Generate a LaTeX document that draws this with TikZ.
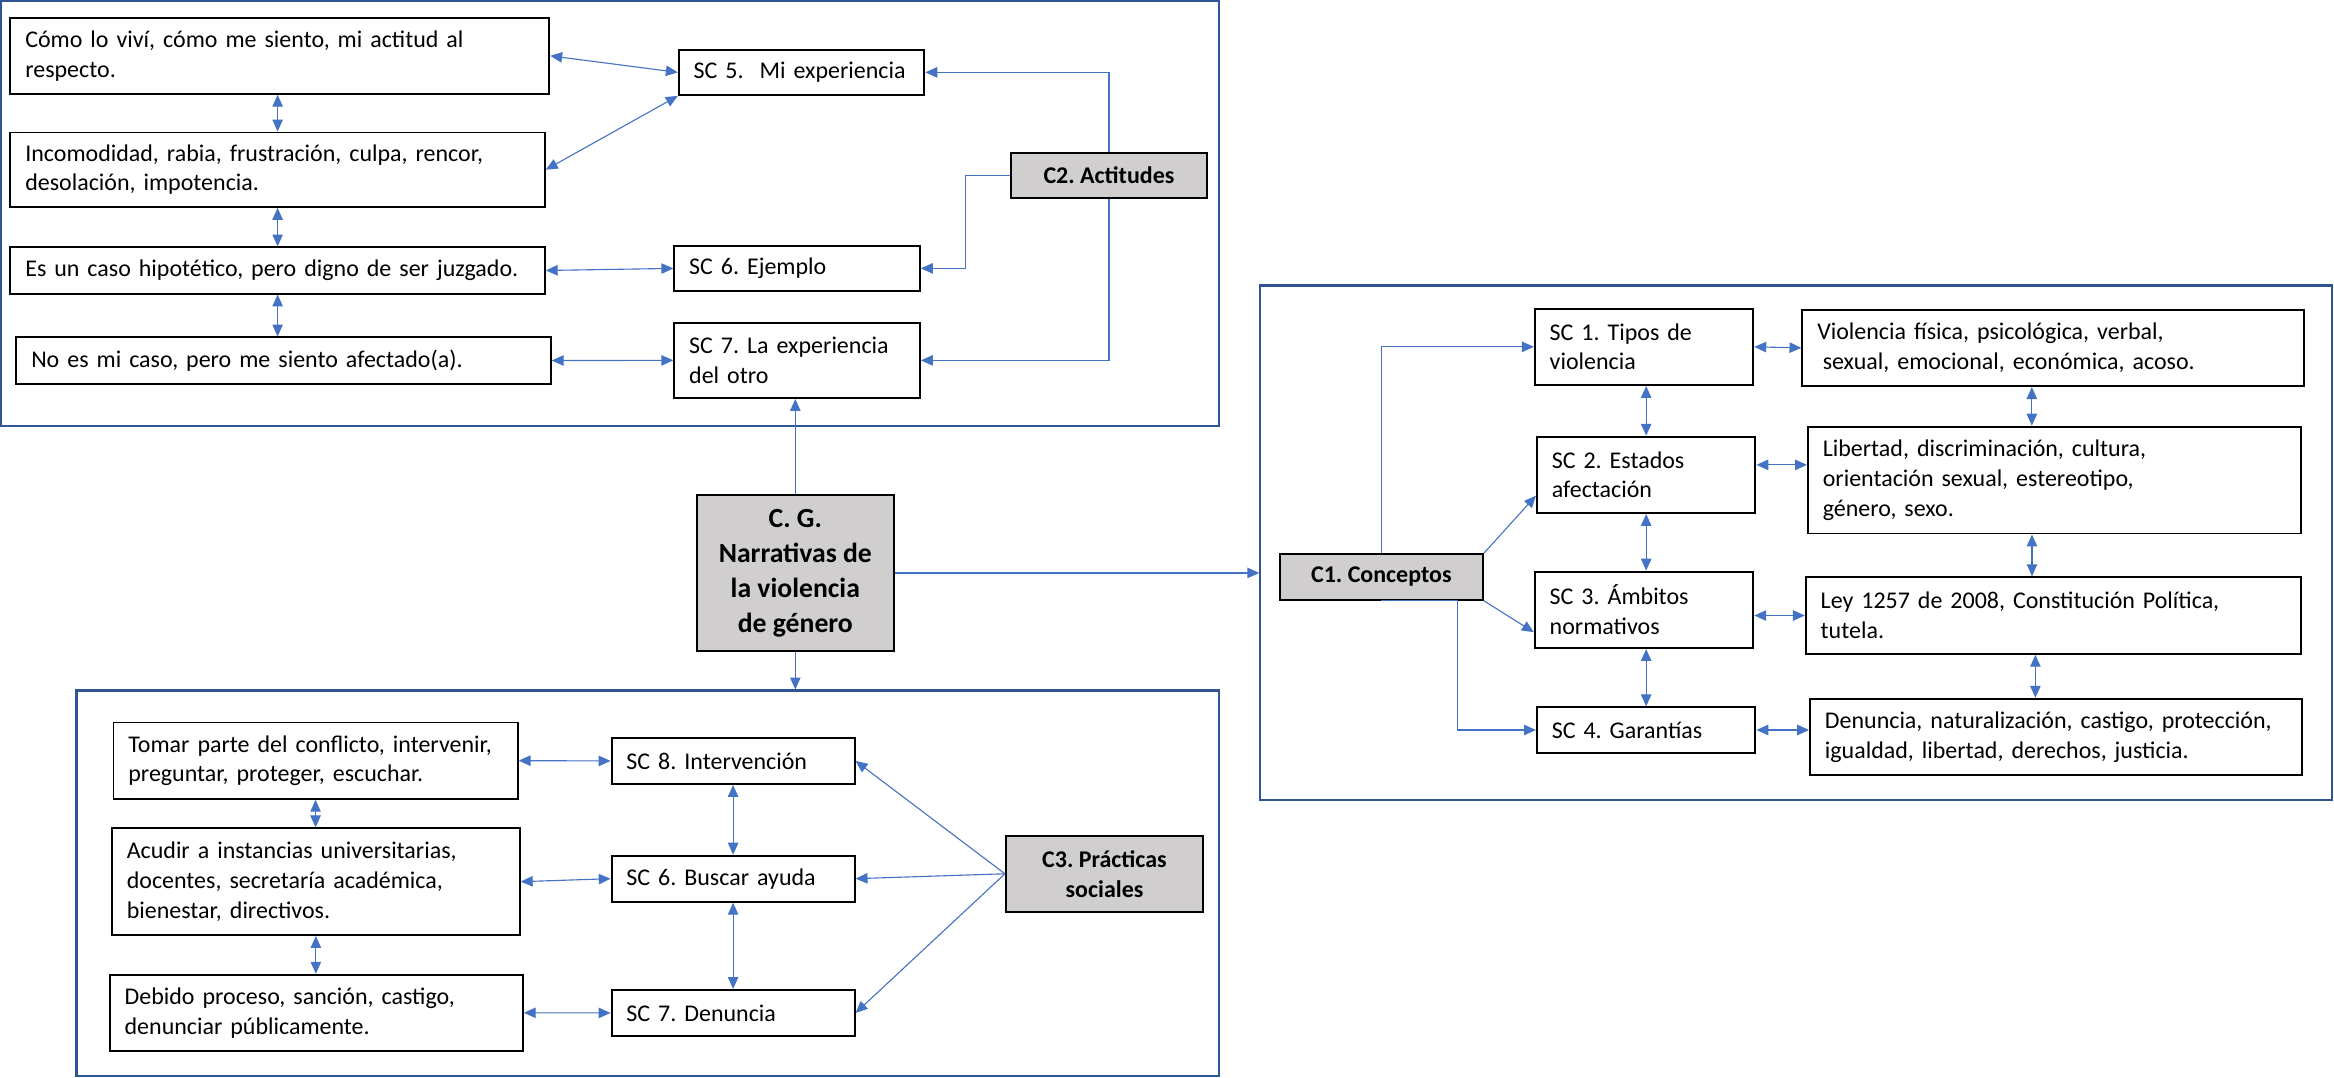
\documentclass[tikz,border=0pt]{standalone}
\usepackage{fontspec}
\setmainfont{Carlito}
\usetikzlibrary{arrows.meta}
\definecolor{linkblue}{HTML}{4472C4}
\definecolor{frameblue}{HTML}{2F5597}
\definecolor{catgray}{HTML}{D0CECE}
\frenchspacing
\hyphenpenalty=10000
\exhyphenpenalty=10000
\begin{document}
\begin{tikzpicture}[x=1pt,y=-1pt]
\tikzstyle{every node}+=[inner sep=0pt, font=\fontsize{16.1}{20}\selectfont]
\tikzstyle{frame}=[draw=frameblue, line width=1.4pt]
\tikzstyle{wbox}=[draw=black, line width=1.3pt, fill=white, inner xsep=10pt, align=left]
\tikzstyle{cbox}=[draw=black, line width=1.3pt, fill=catgray, align=center, font=\fontsize{16.1}{20}\selectfont\bfseries]
\tikzstyle{oneway}=[draw=linkblue, line width=0.75pt, -{Triangle[length=8pt,width=7pt]}]
\tikzstyle{twoway}=[draw=linkblue, line width=0.75pt, {Triangle[length=8pt,width=7pt]}-{Triangle[length=8pt,width=7pt]}]
\useasboundingbox (0,0) rectangle (1568,724);
\node[frame, minimum width=818.3pt, minimum height=285.3pt] (G2) at (409.85,143.35) {};
\node[frame, minimum width=767.4pt, minimum height=259.1pt] (G3) at (435.1,593.45) {};
\node[frame, minimum width=719.9pt, minimum height=345.9pt] (G1) at (1206.65,364.75) {};
\node[wbox, text width=342pt, minimum height=51pt] (A1) at (188,37.5) {Cómo lo viví, cómo me siento, mi actitud al\\respecto.};
\node[wbox, text width=339pt, minimum height=50pt] (A2) at (186.5,114) {Incomodidad, rabia, frustración, culpa, rencor,\\desolación, impotencia.};
\node[wbox, text width=339pt, minimum height=31pt] (A3) at (186.5,181.7) {Es un caso hipotético, pero digno de ser juzgado.};
\node[wbox, text width=339pt, minimum height=31pt] (A4) at (190.5,242.2) {No es mi caso, pero me siento afectado(a).};
\node[wbox, text width=145pt, minimum height=30.4pt] (SC5) at (538.5,48.6) {SC 5.\ \ Mi experiencia};
\node[wbox, text width=145pt, minimum height=30.5pt] (SC6) at (535.5,180.3) {SC 6. Ejemplo};
\node[wbox, text width=145pt, minimum height=50.6pt] (SC7) at (535.5,242.1) {SC 7. La experiencia\\del otro};
\node[cbox, minimum width=132pt, minimum height=30.4pt] (C2) at (745,117.8) {C2. Actitudes};
\node[cbox, minimum width=132.5pt, minimum height=104.8pt, font=\fontsize{18.6}{23.5}\selectfont\bfseries] (CG) at (534.3,384.9) {C. G.\\Narrativas de\\la violencia\\de género};
\node[wbox, text width=251.5pt, minimum height=51.3pt] (B1) at (212,511) {Tomar parte del conflicto, intervenir,\\preguntar, proteger, escuchar.};
\node[wbox, text width=254pt, minimum height=71.7pt] (B2) at (212.2,592.3) {Acudir a instancias universitarias,\\docentes, secretaría académica,\\bienestar, directivos.};
\node[wbox, text width=257.5pt, minimum height=51.2pt] (B3) at (212.5,680.4) {Debido proceso, sanción, castigo,\\denunciar públicamente.};
\node[wbox, text width=143.3pt, minimum height=31pt] (SC8) at (492.5,511.2) {SC 8. Intervención};
\node[wbox, text width=143.3pt, minimum height=31pt] (SC6b) at (492.5,590.3) {SC 6. Buscar ayuda};
\node[wbox, text width=143.3pt, minimum height=31pt] (SC7b) at (492.5,680.5) {SC 7. Denuncia};
\node[cbox, minimum width=132.5pt, minimum height=51pt] (C3) at (742,587) {C3. Prácticas\\sociales};
\node[cbox, minimum width=136.6pt, minimum height=30.8pt] (C1) at (928,387.6) {C1. Conceptos};
\node[wbox, text width=126.8pt, minimum height=51.4pt] (SC1) at (1104.5,233) {SC 1. Tipos de\\violencia};
\node[wbox, text width=126.8pt, minimum height=51.3pt] (SC2) at (1105.9,319) {SC 2. Estados\\afectación};
\node[wbox, text width=126.8pt, minimum height=51.4pt] (SC3) at (1104.5,409.7) {SC 3. Ámbitos\\normativos};
\node[wbox, text width=126.8pt, minimum height=30.5pt] (SC4) at (1105.9,490.4) {SC 4. Garantías};
\node[wbox, text width=316.7pt, minimum height=51.4pt] (D1) at (1379.2,233.7) {Violencia física, psicológica, verbal,\\\hspace*{3.7pt}sexual, emocional, económica, acoso.};
\node[wbox, text width=311.1pt, minimum height=71.8pt] (D2) at (1380.1,322.5) {Libertad, discriminación, cultura,\\orientación sexual, estereotipo,\\género, sexo.};
\node[wbox, text width=312.5pt, minimum height=51.5pt] (D3) at (1379.4,413.5) {Ley 1257 de 2008, Constitución Política,\\tutela.};
\node[wbox, text width=310.2pt, minimum height=51.4pt] (D4) at (1381.1,495.1) {Denuncia, naturalización, castigo, protección,\\igualdad, libertad, derechos, justicia.};
\draw[twoway] (A1.east) -- (SC5.west);
\draw[twoway] (A2.east) -- (SC5.south west);
\draw[twoway] (A3.east) -- (SC6.west);
\draw[twoway] (A4.east) -- (SC7.west);
\draw[twoway] (A2.north |- A1.south) -- (A2.north);
\draw[twoway] (A2.south) -- (A3.north);
\draw[twoway] (A3.south) -- (A3.south |- A4.north);
\draw[oneway] (C2.north) |- (SC5.east);
\draw[oneway] (C2.west) -- ++(-30,0) |- (SC6.east);
\draw[oneway] (C2.south) |- (SC7.east);
\draw[oneway] (CG.north) -- (CG.north |- SC7.south);
\draw[oneway] (CG.south) -- (CG.south |- G3.north);
\draw[oneway] (CG.east) -- (CG.east -| G1.west);
\draw[twoway] (B1.east) -- (SC8.west);
\draw[twoway] (B2.east) -- (SC6b.west);
\draw[twoway] (B3.east) -- (SC7b.west);
\draw[twoway] (B1.south) -- (B1.south |- B2.north);
\draw[twoway] (B2.south) -- (B2.south |- B3.north);
\draw[twoway] (SC8.south) -- (SC6b.north);
\draw[twoway] (SC6b.south) -- (SC7b.north);
\draw[oneway] (C3.west) -- (SC8.east);
\draw[oneway] (C3.west) -- (SC6b.east);
\draw[oneway] (C3.west) -- (SC7b.east);
\draw[oneway] (C1.north) |- (SC1.west);
\draw[oneway] (C1.north east) -- ([yshift=-14pt]SC2.west);
\draw[oneway] (C1.south east) -- ([yshift=-15pt]SC3.west);
\draw[oneway] (C1.south) -- ([xshift=51pt]C1.south) |- (SC4.west);
\draw[twoway] (SC1.east) -- (D1.west);
\draw[twoway] ([yshift=6.7pt]SC2.east) -- ([yshift=6.7pt]SC2.east -| D2.west);
\draw[twoway] (SC3.east |- D3.west) -- (D3.west);
\draw[twoway] (SC4.east) -- (SC4.east -| D4.west);
\draw[twoway] (SC2.north |- SC1.south) -- (SC2.north);
\draw[twoway] (SC2.south) -- (SC2.south |- SC3.north);
\draw[twoway] (SC4.north |- SC3.south) -- (SC4.north);
\draw[twoway] ([xshift=-14.2pt]D1.south) -- ([xshift=-14.2pt]D1.south |- D2.north);
\draw[twoway] ([xshift=-15pt]D2.south) -- ([xshift=-15pt]D2.south |- D3.north);
\draw[twoway] ([xshift=-12pt]D3.south) -- ([xshift=-12pt]D3.south |- D4.north);
\end{tikzpicture}
\end{document}
